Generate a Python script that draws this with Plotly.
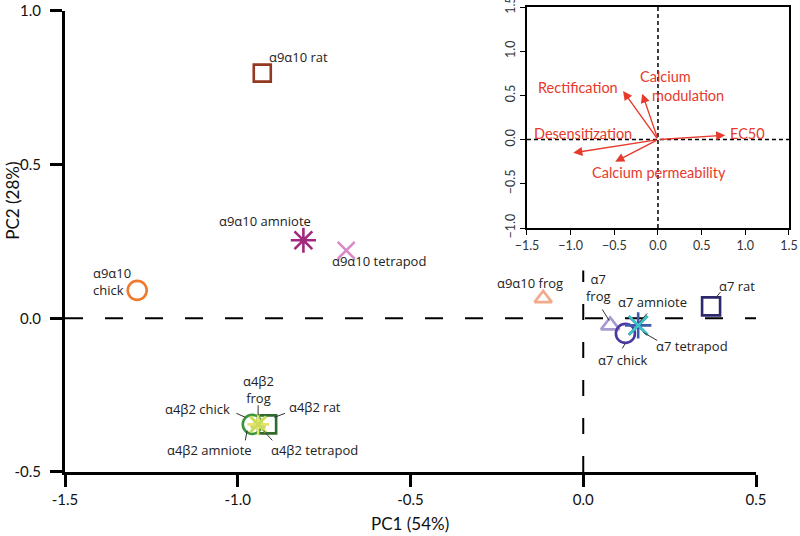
import plotly.graph_objects as go

# ---- data (PCA scores) ----
names = ["α9α10 rat", "α9α10 amniote", "α9α10 tetrapod", "α9α10 chick", "α9α10 frog",
         "α7 frog", "α7 chick", "α7 amniote", "α7 tetrapod", "α7 rat",
         "α4β2 chick", "α4β2 rat", "α4β2 frog", "α4β2 amniote", "α4β2 tetrapod"]
pc1 = [-0.929, -0.810, -0.686, -1.291, -0.116,
       0.078, 0.122, 0.159, 0.159, 0.370,
       -0.958, -0.915, -0.941, -0.941, -0.941]
pc2 = [0.798, 0.254, 0.221, 0.091, 0.065,
       -0.023, -0.049, -0.023, -0.023, 0.039,
       -0.345, -0.345, -0.345, -0.345, -0.345]
symbols = ["square-open", "asterisk-open", "x-thin-open", "circle-open", "triangle-up-open",
           "triangle-up-open", "circle-open", "asterisk-open", "x-thin-open", "square-open",
           "circle-open", "square-open", "triangle-up-open", "asterisk-open", "x-thin-open"]
colors = ["#93391f", "#a3287f", "#d98ac6", "#ef7a2e", "#f2a98c",
          "#a99bd2", "#4b3a9f", "#3d5cae", "#3cc3c6", "#2c2a6c",
          "#3b963b", "#2f6a2f", "#c8d968", "#e6e36a", "#c9dc5a"]
sizes = [17, 21, 17, 19, 15, 16, 19, 22, 19, 18, 19, 18, 12, 18, 16]

# ---- loadings (inset biplot) ----
variables = ["EC50", "Rectification", "Calcium modulation", "Desensitization", "Calcium permeability"]
load1 = [0.77, -0.40, -0.18, -0.97, -0.49]
load2 = [0.05, 0.55, 0.52, -0.15, -0.25]

# label positions (data units)
label_pos = {
    "α9α10 rat": (-0.915, 0.850, "left", "α9α10 rat"),
    "α9α10 amniote": (-0.920, 0.316, "center", "α9α10 amniote"),
    "α9α10 tetrapod": (-0.590, 0.186, "center", "α9α10 tetrapod"),
    "α9α10 chick": (-1.424, 0.121, "left", "α9α10<br>chick"),
    "α9α10 frog": (-0.153, 0.114, "center", "α9α10 frog"),
    "α7 frog": (0.043, 0.101, "center", "α7<br>frog"),
    "α7 amniote": (0.200, 0.052, "center", "α7 amniote"),
    "α7 rat": (0.446, 0.104, "center", "α7 rat"),
    "α7 tetrapod": (0.315, -0.091, "center", "α7 tetrapod"),
    "α7 chick": (0.113, -0.137, "center", "α7 chick"),
    "α4β2 frog": (-0.941, -0.231, "center", "α4β2<br>frog"),
    "α4β2 chick": (-1.117, -0.296, "center", "α4β2 chick"),
    "α4β2 rat": (-0.776, -0.290, "center", "α4β2 rat"),
    "α4β2 amniote": (-1.082, -0.430, "center", "α4β2 amniote"),
    "α4β2 tetrapod": (-0.779, -0.430, "center", "α4β2 tetrapod"),
}
leaders = [
    ((0.055, 0.029), (0.075, -0.007)),
    ((0.185, 0.016), (0.162, -0.013)),
    ((0.397, 0.085), (0.382, 0.065)),
    ((0.214, -0.072), (0.174, -0.046)),
    ((0.113, -0.098), (0.122, -0.081)),
    ((-0.941, -0.283), (-0.941, -0.316)),
    ((-1.004, -0.309), (-0.978, -0.322)),
    ((-0.863, -0.309), (-0.894, -0.322)),
    ((-0.978, -0.397), (-0.973, -0.365)),
    ((-0.900, -0.397), (-0.926, -0.365)),
]

fig = go.Figure()

# dashed reference lines
fig.add_trace(go.Scatter(x=[-1.5, 0.5], y=[0, 0], mode="lines",
                         line=dict(color="black", width=2, dash="18px,22px"),
                         hoverinfo="skip", showlegend=False))
fig.add_trace(go.Scatter(x=[0, 0], y=[-0.5, 0.156], mode="lines",
                         line=dict(color="black", width=2, dash="16px,22px"),
                         hoverinfo="skip", showlegend=False))

for n, x, y, s, c, sz in zip(names, pc1, pc2, symbols, colors, sizes):
    fig.add_trace(go.Scatter(x=[x], y=[y], mode="markers", name=n,
                             marker=dict(symbol=s, size=sz, color=c,
                                         line=dict(color=c, width=2.6)),
                             showlegend=False))

annotations = []
for n in names:
    lx, ly, anchor, txt = label_pos[n]
    annotations.append(dict(x=lx, y=ly, xref="x", yref="y", text=txt, showarrow=False,
                            xanchor=anchor, align=anchor if anchor != "center" else "center",
                            font=dict(family="Open Sans", size=13, color="#222")))

# axis titles
annotations.append(dict(x=0.5, y=-0.11, xref="x domain", yref="paper", text="PC1 (54%)",
                        showarrow=False, xanchor="center", yanchor="middle",
                        font=dict(family="Lato", size=17, color="#111")))
annotations.append(dict(x=-0.072, y=0.583, xref="paper", yref="paper", text="PC2 (28%)",
                        showarrow=False, textangle=-90, xanchor="center", yanchor="middle",
                        font=dict(family="Lato", size=17, color="#111")))

shapes = []
for (x0, y0), (x1, y1) in leaders:
    shapes.append(dict(type="line", xref="x", yref="y", x0=x0, y0=y0, x1=x1, y1=y1,
                       line=dict(color="#333", width=1)))

# inset dashed lines
shapes.append(dict(type="line", xref="x2", yref="y2", x0=-1.5, x1=1.5, y0=0, y1=0,
                   line=dict(color="black", width=1.5, dash="4px,3px")))
shapes.append(dict(type="line", xref="x2", yref="y2", x0=0, x1=0, y0=-1.0, y1=1.5,
                   line=dict(color="black", width=1.5, dash="4px,3px")))

red = "#e63a2c"
for v, a, b in zip(variables, load1, load2):
    annotations.append(dict(x=a, y=b, ax=0, ay=0, xref="x2", yref="y2", axref="x2", ayref="y2",
                            text="", showarrow=True, arrowhead=2, arrowsize=1.3,
                            arrowwidth=1.4, arrowcolor=red))

inset_labels = [
    ("EC50", 1.02, 0.07, "center"),
    ("Rectification", -0.92, 0.59, "center"),
    ("Calcium", 0.09, 0.71, "center"),
    ("modulation", 0.34, 0.50, "center"),
    ("Desensitization", -0.86, 0.07, "center"),
    ("Calcium permeability", 0.01, -0.37, "center"),
]
for t, a, b, anc in inset_labels:
    annotations.append(dict(x=a, y=b, xref="x2", yref="y2", text=t, showarrow=False,
                            xanchor=anc, font=dict(family="Lato", size=14.5, color=red)))

fig.add_trace(go.Scatter(x=[None], y=[None], xaxis="x2", yaxis="y2", showlegend=False))

axis_font = dict(family="Lato", size=15, color="#111")
fig.update_layout(
    width=800, height=536,
    margin=dict(l=65, r=10, t=7, b=64, autoexpand=False),
    paper_bgcolor="white", plot_bgcolor="white",
    showlegend=False,
    xaxis=dict(domain=[0, 0.9531], range=[-1.5, 0.5], showgrid=False, zeroline=False,
               showline=True, linecolor="black", linewidth=3, automargin=False,
               ticks="outside", ticklen=12, tickwidth=3, tickcolor="black",
               tickvals=[-1.5, -1.0, -0.5, 0.0, 0.5], ticktext=["-1.5", "-1.0", "-0.5", "0.0", "0.5"],
               tickfont=axis_font, anchor="y"),
    yaxis=dict(domain=[0, 0.9914], range=[-0.5, 1.0], showgrid=False, zeroline=False,
               showline=True, linecolor="black", linewidth=3, automargin=False,
               ticks="outside", ticklen=12, tickwidth=3, tickcolor="black",
               tickvals=[-0.5, 0.0, 0.5, 1.0], ticktext=["-0.5", "0.0", "0.5", "1.0"],
               tickfont=axis_font, anchor="x", ticklabelstandoff=6),
    xaxis2=dict(domain=[0.6372, 0.9986], range=[-1.5, 1.5], anchor="y2", showgrid=False,
                zeroline=False, showline=True, mirror=True, linecolor="black", linewidth=1.5,
                automargin=False, ticklabeloverflow="allow",
                ticks="outside", ticklen=5, tickwidth=1.2, tickcolor="black",
                tickvals=[-1.5, -1.0, -0.5, 0.0, 0.5, 1.0, 1.5],
                ticktext=["\u22121.5", "\u22121.0", "\u22120.5", "0.0", "0.5", "1.0", "1.5"],
                tickfont=dict(family="Lato", size=12.5, color="#333")),
    yaxis2=dict(domain=[0.5247, 1.0], range=[-1.0, 1.5], anchor="x2", showgrid=False,
                zeroline=False, showline=True, mirror=True, linecolor="black", linewidth=1.5,
                automargin=False, ticklabeloverflow="allow",
                ticks="outside", ticklen=5, tickwidth=1.2, tickcolor="black",
                tickvals=[-1.0, -0.5, 0.0, 0.5, 1.0, 1.5],
                ticktext=["\u22121.0", "\u22120.5", "0.0", "0.5", "1.0", "1.5"],
                tickangle=-90,
                tickfont=dict(family="Lato", size=12.5, color="#333")),
    annotations=annotations,
    shapes=shapes,
)

fig.write_html("out.html", config={"displayModeBar": False},
               post_script="document.body.style.margin='0';document.body.style.padding='0';"
                           "document.body.style.overflow='hidden';")
